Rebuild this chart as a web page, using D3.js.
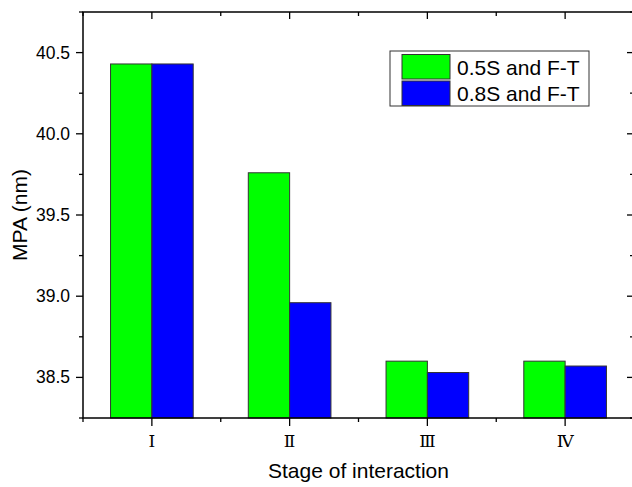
<!DOCTYPE html>
<html>
<head>
<meta charset="utf-8">
<script src="https://cdn.jsdelivr.net/npm/d3@7"></script>
<style>
  body { margin: 0; background: #fff; }
  svg { display: block; }
</style>
</head>
<body>
<div></div>
<script>
const stages = ["Ⅰ", "Ⅱ", "Ⅲ", "Ⅳ"];
const seriesNames = ["0.5S and F-T", "0.8S and F-T"];
const seriesA = [40.43, 39.76, 38.60, 38.60];
const seriesB = [40.43, 38.96, 38.53, 38.57];
const yTicks = [38.5, 39.0, 39.5, 40.0, 40.5];
const colors = ["#00ff00", "#0000ff"];

const W = 632, H = 487;
const mLeft = 83, mRight = 634, mTop = 12, mBottom = 418;

const svg = d3.select("div").append("svg").attr("width", W).attr("height", H);

const x = d3.scaleBand().domain(stages).range([mLeft, mRight]).paddingInner(0).paddingOuter(0);
const y = d3.scaleLinear().domain([38.25, 40.75]).range([mBottom, mTop]);
const bw = x.bandwidth() * 0.3;

const rows = stages.map((s, i) => ({ s, vals: [seriesA[i], seriesB[i]] }));

const g = svg.selectAll("g.stage").data(rows).enter().append("g");
g.selectAll("rect")
  .data(d => d.vals.map((v, j) => ({ s: d.s, v, j })))
  .enter().append("rect")
  .attr("x", d => x(d.s) + x.bandwidth() / 2 + (d.j - 1) * bw)
  .attr("y", d => y(d.v))
  .attr("width", bw)
  .attr("height", d => y(38.25) - y(d.v))
  .attr("fill", d => colors[d.j])
  .attr("stroke", "#333")
  .attr("stroke-width", 1);

// frame
svg.append("rect")
  .attr("x", mLeft).attr("y", mTop)
  .attr("width", mRight - mLeft).attr("height", mBottom - mTop)
  .attr("fill", "none").attr("stroke", "#000").attr("stroke-width", 1.5);

const minorY = d3.range(38.25, 40.76, 0.25).filter(v => !yTicks.some(t => Math.abs(t - v) < 1e-6));
const bounds = d3.range(0, stages.length + 1).map(i => mLeft + i * x.bandwidth());

const tk = svg.append("g").attr("stroke", "#000").attr("stroke-width", 1.3);
// left ticks (outward) and right ticks (inward)
yTicks.forEach(v => {
  tk.append("line").attr("x1", mLeft - 7).attr("x2", mLeft).attr("y1", y(v)).attr("y2", y(v));
  tk.append("line").attr("x1", mRight - 7).attr("x2", mRight).attr("y1", y(v)).attr("y2", y(v));
});
minorY.forEach(v => {
  tk.append("line").attr("x1", mLeft - 4).attr("x2", mLeft).attr("y1", y(v)).attr("y2", y(v));
  tk.append("line").attr("x1", mRight - 4).attr("x2", mRight).attr("y1", y(v)).attr("y2", y(v));
});
// bottom ticks (outward) and top ticks (inward)
stages.forEach(s => {
  const cx = x(s) + x.bandwidth() / 2;
  tk.append("line").attr("x1", cx).attr("x2", cx).attr("y1", mBottom).attr("y2", mBottom + 8);
  tk.append("line").attr("x1", cx).attr("x2", cx).attr("y1", mTop).attr("y2", mTop + 7);
});
bounds.forEach(bx => {
  tk.append("line").attr("x1", bx).attr("x2", bx).attr("y1", mBottom).attr("y2", mBottom + 4);
  tk.append("line").attr("x1", bx).attr("x2", bx).attr("y1", mTop).attr("y2", mTop + 4);
});

// tick labels
svg.selectAll("text.ytick").data(yTicks).enter().append("text")
  .attr("x", mLeft - 13).attr("y", d => y(d) + 6)
  .attr("text-anchor", "end")
  .style("font-family", "'Liberation Sans', Arial, sans-serif")
  .style("font-size", "17.5px")
  .text(d => d.toFixed(1));

svg.selectAll("text.xtick").data(stages).enter().append("text")
  .attr("x", d => x(d) + x.bandwidth() / 2).attr("y", mBottom + 29)
  .attr("text-anchor", "middle")
  .style("font-family", "'DejaVu Serif', 'Liberation Serif', serif")
  .style("font-size", "17px")
  .text(d => d);

// axis titles
svg.append("text")
  .attr("x", (mLeft + mRight) / 2).attr("y", 478)
  .attr("text-anchor", "middle")
  .style("font-family", "'Liberation Sans', Arial, sans-serif")
  .style("font-size", "21px")
  .text("Stage of interaction");

svg.append("text")
  .attr("transform", "translate(27," + (mTop + mBottom) / 2 + ") rotate(-90)")
  .attr("text-anchor", "middle")
  .style("font-family", "'Liberation Sans', Arial, sans-serif")
  .style("font-size", "21px")
  .text("MPA (nm)");

// legend
const lg = svg.append("g");
lg.append("rect").attr("x", 390).attr("y", 51).attr("width", 199).attr("height", 55)
  .attr("fill", "#fff").attr("stroke", "#333").attr("stroke-width", 1);
seriesNames.forEach((n, i) => {
  lg.append("rect").attr("x", 402).attr("y", 54.5 + i * 26.5).attr("width", 48).attr("height", 24.5)
    .attr("fill", colors[i]).attr("stroke", "#333").attr("stroke-width", 1);
  lg.append("text").attr("x", 457).attr("y", 74.5 + i * 26.5)
    .style("font-family", "'Liberation Sans', Arial, sans-serif")
    .style("font-size", "21px")
    .text(n);
});
</script>
</body>
</html>
